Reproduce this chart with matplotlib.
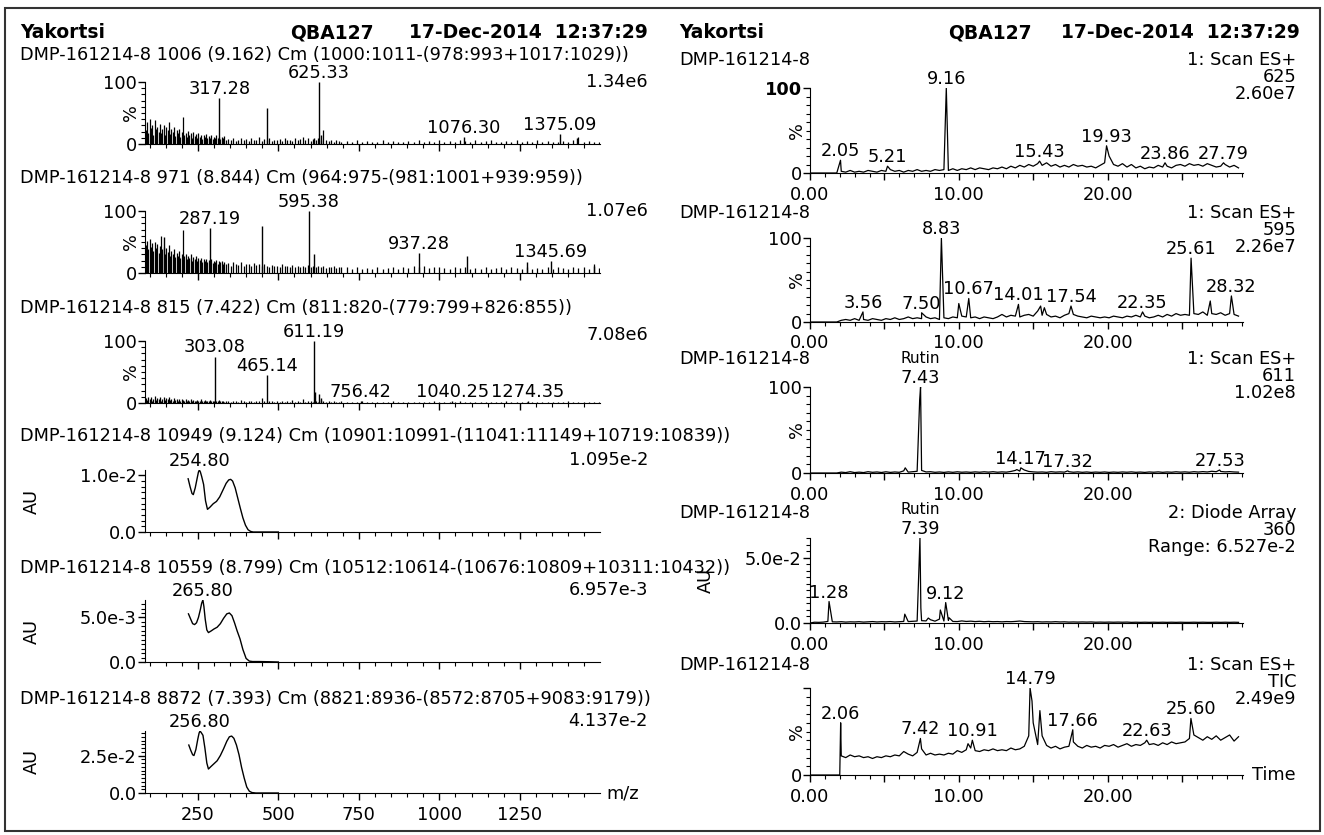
import numpy as np
import matplotlib
matplotlib.use('Agg')
import matplotlib.pyplot as plt
from matplotlib.ticker import MultipleLocator, NullFormatter, FuncFormatter
from matplotlib.patches import Rectangle

plt.rcParams['font.family'] = ['DejaVu Sans']

# ---------------- data ----------------
header = ['Yakortsi', 'QBA127', '17-Dec-2014  12:37:29']
sample = 'DMP-161214-8'

# mass spectra: common m/z grid for the small (noise) peaks
mz_grid = [88, 92, 96, 100, 104, 108, 112, 116, 120, 124,
           128, 132, 136, 140, 144, 148, 152, 156, 160, 164,
           168, 172, 176, 180, 184, 188, 192, 196, 200, 204,
           208, 212, 216, 220, 224, 228, 232, 236, 240, 244,
           248, 252, 256, 260, 264, 268, 272, 276, 280, 284,
           288, 292, 296, 300, 304, 308, 312, 316, 320, 324,
           328, 332, 336,
           344, 352, 360, 368, 376, 384, 392, 400, 408, 416,
           424, 432, 440, 448, 456, 464, 472, 480, 488, 496,
           504, 512, 520, 528, 536, 544, 552, 560, 568, 576,
           584, 592, 600, 608, 616, 624, 632, 640, 648, 656,
           664, 672, 680, 688, 696,
           712, 728, 744, 760, 776, 792, 808, 824, 840, 856,
           872, 888, 904, 920, 936, 952, 968, 984, 1000, 1016,
           1032, 1048, 1064, 1080, 1096, 1112, 1128, 1144, 1160, 1176,
           1192, 1208, 1224, 1240, 1256, 1272, 1288, 1304, 1320, 1336,
           1352, 1368, 1384, 1400, 1416, 1432, 1448, 1464, 1480, 1496]

ms1_grid = [22, 35, 18, 40, 26, 30, 15, 38, 24, 28,
            20, 33, 17, 25, 30, 14, 27, 22, 36, 16,
            24, 19, 28, 13, 22, 18, 25, 12, 20, 44,
            15, 18, 11, 21, 14, 17, 10, 19, 13, 16,
            9, 18, 12, 15, 8, 14, 11, 16, 9, 13,
            10, 15, 8, 12, 9, 14, 10, 12, 8, 11,
            9, 13, 7,
            8, 6, 9, 5, 7, 10, 6, 8, 5, 9,
            6, 7, 11, 5, 8, 6, 9, 5, 7, 6,
            8, 5, 10, 6, 7, 5, 9, 6, 8, 12,
            7, 9, 5, 8, 6, 10, 7, 22, 6, 5,
            7, 4, 6, 5, 4,
            5, 3, 6, 4, 5, 3, 4, 6, 3, 5,
            4, 3, 5, 4, 6, 3, 5, 4, 7, 4,
            5, 3, 6, 5, 4, 6, 3, 5, 7, 4,
            3, 5, 4, 6, 3, 5, 4, 6, 3, 5,
            4, 3, 5, 4, 6, 12, 4, 5, 3, 4]
ms1_pk_mz = [317.28, 465.2, 612.2, 625.33, 631.3, 1076.30, 1375.09, 1428.5]
ms1_pk_int = [75, 58, 10, 100, 14, 11, 16, 10]
ms1_lab = [317.28, 625.33, 1076.30, 1375.09]

ms2_grid = [45, 52, 38, 55, 42, 48, 35, 50, 40, 46,
            32, 44, 60, 38, 42, 30, 40, 34, 45, 28,
            36, 30, 38, 26, 33, 28, 35, 24, 31, 70,
            27, 30, 22, 28, 25, 30, 20, 26, 23, 27,
            19, 24, 21, 25, 18, 23, 20, 22, 17, 21,
            19, 22, 16, 20, 18, 21, 15, 19, 17, 20,
            14, 18, 15,
            16, 12, 18, 14, 13, 17, 11, 15, 14, 12,
            16, 13, 15, 11, 14, 12, 10, 13, 11, 12,
            10, 14, 11, 12, 9, 13, 10, 12, 9, 11,
            10, 13, 9, 12, 10, 11, 9, 12, 8, 10,
            9, 11, 8, 10, 9,
            9, 7, 10, 6, 8, 7, 9, 6, 8, 10,
            7, 9, 8, 11, 9, 12, 8, 10, 9, 8,
            7, 9, 8, 10, 7, 8, 6, 9, 7, 8,
            10, 7, 9, 8, 6, 9, 7, 8, 6, 9,
            7, 10, 8, 7, 9, 8, 10, 7, 14, 8]
ms2_pk_mz = [146.1, 287.19, 449.2, 595.38, 612.3, 937.28, 1087.4, 1273.5, 1345.69, 1481.0]
ms2_pk_int = [58, 72, 76, 100, 30, 32, 27, 17, 20, 12]
ms2_lab = [287.19, 595.38, 937.28, 1345.69]

ms3_grid = [8, 5, 10, 6, 9, 4, 7, 11, 5, 8,
            6, 9, 4, 7, 10, 5, 8, 6, 9, 5,
            7, 4, 8, 5, 6, 3, 7, 4, 6, 5,
            4, 6, 3, 5, 4, 6, 3, 5, 4, 3,
            5, 3, 4, 6, 3, 4, 5, 3, 4, 3,
            5, 3, 4, 3, 2, 4, 3, 5, 3, 4,
            3, 2, 4,
            3, 2, 4, 3, 2, 5, 3, 2, 4, 3,
            2, 4, 3, 8, 3, 2, 4, 3, 2, 3,
            2, 4, 2, 3, 2, 5, 2, 3, 2, 6,
            2, 3, 4, 2, 3, 2, 5, 3, 2, 3,
            2, 3, 2, 2, 3,
            2, 1, 2, 3, 1, 2, 1, 2, 1, 3,
            1, 2, 1, 2, 1, 2, 1, 3, 2, 1,
            2, 1, 3, 1, 2, 1, 2, 1, 2, 1,
            2, 3, 1, 2, 1, 2, 1, 2, 1, 2,
            1, 2, 1, 3, 1, 2, 1, 2, 1, 2]
ms3_pk_mz = [303.08, 465.14, 611.19, 613.2, 625.2, 633.2, 756.42, 1040.25, 1274.35]
ms3_pk_int = [75, 45, 100, 18, 15, 8, 4, 3, 3]
ms3_lab = [303.08, 465.14, 611.19, 756.42, 1040.25, 1274.35]

# UV spectra (nm, AU)
uv1_wl = [220, 226, 232, 236, 242, 248, 252, 254.8, 258, 262, 268, 274, 280, 288, 298,
          308, 318, 328, 338, 346, 352, 358, 366, 374, 382, 390, 398, 406, 414, 422, 440, 470, 500]
uv1_au = [0.94e-2, 0.80e-2, 0.68e-2, 0.66e-2, 0.78e-2, 0.95e-2, 1.06e-2, 1.095e-2, 1.06e-2,
          0.98e-2, 0.84e-2, 0.55e-2, 0.40e-2, 0.44e-2, 0.50e-2, 0.54e-2, 0.62e-2, 0.74e-2,
          0.86e-2, 0.92e-2, 0.93e-2, 0.90e-2, 0.78e-2, 0.60e-2, 0.42e-2, 0.25e-2, 0.12e-2,
          0.04e-2, 0.01e-2, 0.0, 0.0, 0.0, 0.0]
uv2_wl = [221, 228, 234, 240, 246, 252, 258, 262, 265.8, 269, 273, 278, 283, 292, 300, 310,
          320, 330, 340, 348, 356, 364, 372, 381, 390, 400, 410, 420, 440, 470, 500]
uv2_au = [5.4e-3, 4.8e-3, 4.3e-3, 4.2e-3, 4.4e-3, 5.0e-3, 5.9e-3, 6.6e-3, 6.957e-3, 6.2e-3,
          4.8e-3, 3.6e-3, 3.3e-3, 3.5e-3, 3.7e-3, 3.9e-3, 4.3e-3, 4.9e-3, 5.4e-3, 5.5e-3,
          5.2e-3, 4.4e-3, 3.5e-3, 2.6e-3, 1.4e-3, 0.4e-3, 0.1e-3, 0.05e-3, 0.05e-3, 0.03e-3, 0.0]
uv3_wl = [222, 228, 234, 238, 244, 250, 254, 256.8, 260, 266, 272, 278, 283, 290, 300, 310,
          320, 330, 340, 348, 355, 362, 370, 378, 386, 394, 402, 410, 418, 430, 460, 500]
uv3_au = [3.2e-2, 2.85e-2, 2.55e-2, 2.5e-2, 2.9e-2, 3.6e-2, 4.0e-2, 4.137e-2, 4.05e-2, 3.85e-2,
          3.0e-2, 2.0e-2, 1.6e-2, 1.75e-2, 1.95e-2, 2.15e-2, 2.5e-2, 2.95e-2, 3.45e-2, 3.75e-2,
          3.8e-2, 3.65e-2, 3.2e-2, 2.55e-2, 1.7e-2, 1.0e-2, 0.4e-2, 0.12e-2, 0.03e-2, 0.0, 0.0, 0.0]

left_titles = [
    'DMP-161214-8 1006 (9.162) Cm (1000:1011-(978:993+1017:1029))',
    'DMP-161214-8 971 (8.844) Cm (964:975-(981:1001+939:959))',
    'DMP-161214-8 815 (7.422) Cm (811:820-(779:799+826:855))',
    'DMP-161214-8 10949 (9.124) Cm (10901:10991-(11041:11149+10719:10839))',
    'DMP-161214-8 10559 (8.799) Cm (10512:10614-(10676:10809+10311:10432))',
    'DMP-161214-8 8872 (7.393) Cm (8821:8936-(8572:8705+9083:9179))',
]
left_max = ['1.34e6', '1.07e6', '7.08e6', '1.095e-2', '6.957e-3', '4.137e-2']
uv_ticks = [(1.0e-2, '1.0e-2', 1.0e-3), (5.0e-3, '5.0e-3', 5.0e-4), (2.5e-2, '2.5e-2', 2.5e-3)]
uv_peak = [254.8, 265.8, 256.8]

# chromatograms: retention-time grid for the baseline + peak apexes
rt_grid = [0.0, 0.3, 0.6, 0.9, 1.2, 1.5, 1.8, 2.1, 2.4, 2.7,
           3.0, 3.3, 3.6, 3.9, 4.2, 4.5, 4.8, 5.1, 5.4, 5.7,
           6.0, 6.3, 6.6, 6.9, 7.2, 7.5, 7.8, 8.1, 8.4, 8.7,
           9.0, 9.3, 9.6, 9.9, 10.2, 10.5, 10.8, 11.1, 11.4, 11.7,
           12.0, 12.3, 12.6, 12.9, 13.2, 13.5, 13.8, 14.1, 14.4, 14.7,
           15.0, 15.3, 15.6, 15.9, 16.2, 16.5, 16.8, 17.1, 17.4, 17.7,
           18.0, 18.3, 18.6, 18.9, 19.2, 19.5, 19.8, 20.1, 20.4, 20.7,
           21.0, 21.3, 21.6, 21.9, 22.2, 22.5, 22.8, 23.1, 23.4, 23.7,
           24.0, 24.3, 24.6, 24.9, 25.2, 25.5, 25.8, 26.1, 26.4, 26.7,
           27.0, 27.3, 27.6, 27.9, 28.2, 28.5, 28.8]

c1_base = [0, 0, 0, 0, 0, 0, 0, 2, 1, 3,
           1, 2, 1, 3, 2, 1, 3, 2, 4, 2,
           3, 1, 3, 2, 4, 2, 3, 2, 4, 3,
           4, 3, 5, 3, 5, 4, 6, 4, 6, 5,
           4, 6, 5, 7, 5, 8, 6, 9, 7, 10,
           8, 11, 9, 12, 8, 10, 7, 9, 7, 10,
           8, 9, 7, 8, 6, 9, 12, 20, 10, 8,
           11, 7, 10, 6, 8, 5, 7, 6, 9, 7,
           8, 6, 9, 10, 8, 11, 9, 10, 8, 11,
           9, 7, 8, 10, 7, 9, 6]
c1_pk_t = [2.05, 5.21, 9.16, 15.43, 19.93, 23.86, 27.79]
c1_pk_v = [15, 8, 100, 14, 32, 12, 12]
c1_lab = [2.05, 5.21, 9.16, 15.43, 19.93, 23.86, 27.79]

c2_base = [0, 0, 0, 0, 0, 0, 0, 2, 3, 2,
           4, 2, 3, 2, 4, 3, 2, 4, 3, 5,
           3, 4, 6, 4, 5, 4, 6, 4, 5, 3,
           5, 4, 6, 5, 7, 6, 5, 6, 4, 6,
           5, 4, 6, 9, 6, 8, 7, 6, 8, 9,
           7, 13, 8, 9, 6, 7, 5, 8, 10, 9,
           7, 6, 5, 7, 6, 5, 6, 5, 7, 6,
           5, 7, 6, 8, 6, 7, 5, 6, 8, 6,
           9, 7, 10, 8, 9, 8, 10, 9, 12, 8,
           10, 9, 11, 8, 10, 9, 7]
c2_pk_t = [3.56, 7.50, 8.83, 10.0, 10.67, 14.01, 15.5, 15.75, 17.54, 22.35, 25.61, 26.9, 28.32]
c2_pk_v = [12, 11, 100, 22, 28, 21, 19, 17, 19, 12, 76, 25, 31]
c2_lab = [3.56, 7.50, 8.83, 10.67, 14.01, 17.54, 22.35, 25.61, 28.32]

c3_base = [0, 0, 0, 0, 0, 0, 0, 1, 0.5, 1.5,
           0.5, 1, 0.5, 1.5, 0.8, 1.2, 0.6, 1.4, 0.7, 1.2,
           0.8, 2.5, 1.0, 1.5, 2.0, 3.0, 1.2, 1.5, 0.8, 1.2,
           0.7, 1.3, 0.8, 1.4, 0.9, 1.2, 0.8, 1.3, 0.9, 1.4,
           1.0, 1.5, 0.9, 1.3, 1.0, 1.8, 3.0, 2.2, 3.5, 1.8,
           1.3, 1.0, 1.2, 0.8, 1.5, 1.0, 1.3, 1.0, 1.5, 0.9,
           1.3, 0.8, 1.2, 0.7, 1.1, 0.8, 1.2, 0.7, 1.1, 0.8,
           1.2, 0.9, 1.3, 0.8, 1.1, 0.7, 1.2, 0.9, 1.3, 0.8,
           1.2, 0.9, 1.4, 1.0, 1.3, 0.9, 1.5, 1.1, 1.6, 1.2,
           2.0, 1.5, 1.8, 1.3, 1.6, 1.2, 1.0]
c3_pk_t = [6.4, 7.37, 7.43, 13.9, 14.17, 17.32, 27.53]
c3_pk_v = [6, 85, 100, 4, 6, 2.5, 3.5]
c3_lab = [7.43, 14.17, 17.32, 27.53]

c4_base = [0.0, 0.0006, 0.0005, 0.0007, 0.0012, 0.0009, 0.0008, 0.0010, 0.0007, 0.0009,
           0.0008, 0.0010, 0.0007, 0.0009, 0.0011, 0.0008, 0.0010, 0.0009, 0.0011, 0.0008,
           0.0010, 0.0012, 0.0011, 0.0013, 0.0015, 0.0018, 0.0016, 0.0025, 0.0014, 0.0030,
           0.0015, 0.0020, 0.0012, 0.0011, 0.0016, 0.0012, 0.0014, 0.0011, 0.0013, 0.0010,
           0.0012, 0.0010, 0.0011, 0.0009, 0.0011, 0.0010, 0.0012, 0.0015, 0.0011, 0.0010,
           0.0009, 0.0010, 0.0008, 0.0009, 0.0008, 0.0010, 0.0008, 0.0009, 0.0007, 0.0008,
           0.0007, 0.0008, 0.0007, 0.0008, 0.0006, 0.0007, 0.0006, 0.0007, 0.0006, 0.0007,
           0.0006, 0.0007, 0.0005, 0.0006, 0.0005, 0.0006, 0.0005, 0.0006, 0.0005, 0.0006,
           0.0005, 0.0006, 0.0005, 0.0006, 0.0005, 0.0005, 0.0006, 0.0005, 0.0006, 0.0005,
           0.0005, 0.0006, 0.0005, 0.0006, 0.0005, 0.0006, 0.0005]
c4_pk_t = [1.28, 6.37, 7.39, 7.45, 7.95, 8.76, 9.12, 9.35]
c4_pk_v = [0.0165, 0.0068, 0.06527, 0.0115, 0.0038, 0.0100, 0.0157, 0.0040]
c4_lab = [1.28, 7.39, 9.12]

c5_base = [0, 0, 0, 0, 0, 0, 0, 22, 20, 23,
           21, 22, 20, 21, 19, 21, 20, 22, 21, 23,
           22, 27, 24, 22, 26, 30, 23, 25, 23, 24,
           23, 25, 24, 28, 26, 29, 31, 28, 27, 29,
           28, 30, 28, 29, 28, 31, 29, 30, 33, 45,
           60, 35, 45, 34, 31, 33, 30, 32, 33, 38,
           33, 31, 34, 32, 33, 31, 34, 33, 35, 32,
           34, 36, 33, 35, 34, 37, 35, 36, 34, 37,
           35, 38, 36, 37, 38, 42, 46, 43, 40, 44,
           41, 45, 40, 43, 46, 39, 44]
c5_pk_t = [2.0, 2.06, 7.42, 10.62, 10.91, 14.79, 14.92, 15.45, 17.66, 22.63, 25.60]
c5_pk_v = [0, 60, 42, 36, 40, 100, 85, 74, 52, 40, 65]
c5_lab = [2.06, 7.42, 10.91, 14.79, 17.66, 22.63, 25.60]

right_info = [['1: Scan ES+', '625', '2.60e7'],
              ['1: Scan ES+', '595', '2.26e7'],
              ['1: Scan ES+', '611', '1.02e8'],
              ['2: Diode Array', '360', 'Range: 6.527e-2'],
              ['1: Scan ES+', 'TIC', '2.49e9']]

# ---------------- layout (pixels) ----------------
W, H = 1324, 835
FS = 12.8
LX0, LX1, LTXT, LRIGHT = 145, 600, 20, 648
RX0, RX1, RTXT, RRIGHT = 810, 1243, 679, 1296
l_base = [144, 273, 403, 532, 662, 793]
l_title = [55, 178, 308, 436, 568, 699]
l_top = [82, 211, 341, 470, 600, 731]
l_val = [82, 211, 335, 460, 590, 721]
r_base = [173, 322, 473, 623, 775]
r_title = [60, 213, 359, 513, 665]
r_top = [88, 238, 387, 538, 688]

fig = plt.figure(figsize=(W / 100, H / 100), dpi=100)


def pax(x0, x1, ytop, ybase):
    ax = fig.add_axes([x0 / W, 1 - ybase / H, (x1 - x0) / W, (ybase - ytop) / H])
    ax.spines['top'].set_visible(False)
    ax.spines['right'].set_visible(False)
    ax.patch.set_alpha(0)
    ax.tick_params(which='major', length=5, width=1, labelsize=FS, pad=1)
    ax.tick_params(axis='x', which='major', pad=4)
    ax.tick_params(which='minor', length=3, width=0.8)
    return ax


def ftxt(x, y, s, ha='left', size=FS, **kw):
    fig.text(x / W, 1 - y / H, s, ha=ha, va='center', fontsize=size, **kw)


def label_peaks(ax, xs, ys, labs, size=FS):
    look = dict(zip(xs, ys))
    for v in labs:
        ax.annotate(f'{v:.2f}', (v, look[v]), xytext=(0, 0), textcoords='offset points',
                    ha='center', va='bottom', fontsize=size, annotation_clip=False)


# header
for x0, qx, right in [(LTXT, 332, LRIGHT), (RTXT, 990, RRIGHT + 4)]:
    ftxt(x0, 33, header[0], size=13.5, weight='bold')
    ftxt(qx, 33, header[1], ha='center', size=13.5, weight='bold')
    ftxt(right, 33, header[2], ha='right', size=13.5, weight='bold')

# left column: mass spectra
ms_sets = [(ms1_grid, ms1_pk_mz, ms1_pk_int, ms1_lab),
           (ms2_grid, ms2_pk_mz, ms2_pk_int, ms2_lab),
           (ms3_grid, ms3_pk_mz, ms3_pk_int, ms3_lab)]
for i, (g, pm, pi, lab) in enumerate(ms_sets):
    top, base = l_top[i], l_base[i]
    ax = pax(LX0, LX1, top, base)
    ax.vlines(mz_grid, 0, g, color='k', lw=0.9)
    ax.vlines(pm, 0, pi, color='k', lw=1.0)
    label_peaks(ax, pm, pi, lab)
    ax.set_xlim(86, 1499)
    ax.set_ylim(0, 100)
    ax.xaxis.set_major_locator(MultipleLocator(250))
    ax.xaxis.set_minor_locator(MultipleLocator(50))
    ax.xaxis.set_major_formatter(NullFormatter())
    ax.set_yticks([0, 100])
    ax.set_yticklabels(['0', '100'])
    ax.yaxis.set_minor_locator(MultipleLocator(10))
    ftxt(131, (top + base) / 2, '%', ha='center', rotation=90)
    ftxt(LTXT, l_title[i], left_titles[i])
    ftxt(LRIGHT, l_val[i], left_max[i], ha='right')

# left column: UV spectra
uv_sets = [(uv1_wl, uv1_au), (uv2_wl, uv2_au), (uv3_wl, uv3_au)]
for j, (wl, au) in enumerate(uv_sets):
    i = j + 3
    top, base = l_top[i], l_base[i]
    ax = pax(LX0, LX1, top, base)
    ax.plot(wl, au, color='k', lw=1.0)
    ymax = max(au)
    ax.annotate(f'{uv_peak[j]:.2f}', (uv_peak[j], ymax), xytext=(0, 0),
                textcoords='offset points', ha='center', va='bottom', fontsize=FS,
                annotation_clip=False)
    ax.set_xlim(86, 1499)
    ax.set_ylim(0, ymax)
    ax.xaxis.set_major_locator(MultipleLocator(250))
    ax.xaxis.set_minor_locator(MultipleLocator(50))
    if i < 5:
        ax.xaxis.set_major_formatter(NullFormatter())
    tv, tl, mn = uv_ticks[j]
    ax.set_yticks([0, tv])
    ax.set_yticklabels(['0.0', tl])
    ax.yaxis.set_minor_locator(MultipleLocator(mn))
    ftxt(32, (top + base) / 2, 'AU', ha='center', rotation=90)
    ftxt(LTXT, l_title[i], left_titles[i])
    ftxt(LRIGHT, l_val[i], left_max[i], ha='right')
ftxt(LX1 + 6, l_base[5], 'm/z')

# right column: chromatograms
chroms = [(c1_base, c1_pk_t, c1_pk_v, c1_lab),
          (c2_base, c2_pk_t, c2_pk_v, c2_lab),
          (c3_base, c3_pk_t, c3_pk_v, c3_lab),
          (c4_base, c4_pk_t, c4_pk_v, c4_lab),
          (c5_base, c5_pk_t, c5_pk_v, c5_lab)]
for i, (bv, pt, pv, lab) in enumerate(chroms):
    top, base = r_top[i], r_base[i]
    ax = pax(RX0, RX1, top, base)
    t = np.array(rt_grid + pt)
    y = np.array(bv + pv)
    o = np.argsort(t, kind='stable')
    ax.plot(t[o], y[o], color='k', lw=0.9)
    label_peaks(ax, pt, pv, lab)
    ax.set_xlim(0, 29.1)
    ax.xaxis.set_major_locator(MultipleLocator(5))
    ax.xaxis.set_minor_locator(MultipleLocator(1))
    ax.xaxis.set_major_formatter(FuncFormatter(lambda v, p: f'{v:.2f}' if abs(v % 10) < 1e-6 else ''))
    if i == 3:
        ymax = max(pv)
        ax.set_ylim(0, ymax)
        ax.set_yticks([0, 0.05])
        ax.set_yticklabels(['0.0', '5.0e-2'])
        ax.yaxis.set_minor_locator(MultipleLocator(0.005))
        ftxt(706, (top + base) / 2, 'AU', ha='center', rotation=90)
    else:
        ax.set_ylim(0, 100)
        ax.set_yticks([0, 100])
        ax.set_yticklabels(['0', '' if i == 4 else '100'])
        ax.yaxis.set_minor_locator(MultipleLocator(10))
        if i == 0:
            ax.get_yticklabels()[1].set_fontweight('bold')
        ftxt(797, (top + base) / 2, '%', ha='center', rotation=90)
    if i in (2, 3):
        pk = lab[0] if i == 2 else lab[1]
        ax.annotate('Rutin', (pk, max(pv)), xytext=(0, 15), textcoords='offset points',
                    ha='center', va='bottom', fontsize=11, annotation_clip=False)
    ftxt(RTXT, r_title[i], sample)
    for k, s in enumerate(right_info[i]):
        ftxt(RRIGHT, r_title[i] + 17 * k, s, ha='right')
ftxt(RX1 + 9, r_base[4], 'Time')

# page frame
fig.patches.append(Rectangle((5 / W, 1 - 831 / H), 1315 / W, 823 / H, transform=fig.transFigure,
                             fill=False, ec='#333333', lw=1.5))

fig.savefig('out.png', dpi=100)
